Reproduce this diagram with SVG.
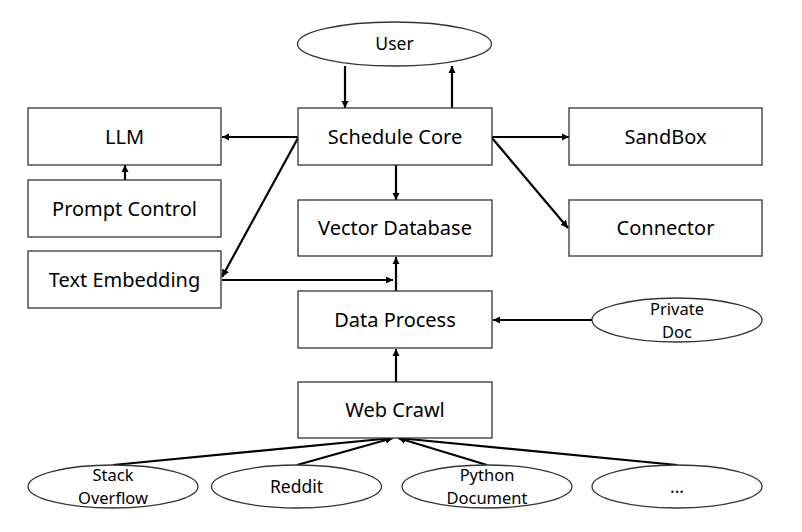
<svg xmlns="http://www.w3.org/2000/svg" width="802" height="532" viewBox="0 0 802 532">
<style>
.box{fill:#fff;stroke:#333;stroke-width:1.3}
.ell{fill:#fff;stroke:#333;stroke-width:1.3}
.lbl{font-family:"Noto Sans","Open Sans",sans-serif;font-size:20px;fill:#000;text-anchor:middle}
.el{font-family:"Noto Sans","Open Sans",sans-serif;font-size:17.5px;fill:#000;text-anchor:middle}
.el2{font-family:"Noto Sans","Open Sans",sans-serif;font-size:16.5px;fill:#000;text-anchor:middle}
.c{fill:none;stroke:#000;stroke-width:2.2;marker-end:url(#ah)}
</style>
<defs>
<marker id="ah" viewBox="0 0 10 10" refX="10" refY="5" markerWidth="3.4" markerHeight="3.4" orient="auto" markerUnits="strokeWidth">
<path d="M0,0 L10,5 L0,10 z" fill="#000"/>
</marker>
</defs>
<rect width="802" height="532" fill="#fff"/>
<g id="connectors">
<line class="c" x1="345" y1="66" x2="345" y2="108"/>
<line class="c" x1="452" y1="108" x2="452" y2="66"/>
<line class="c" x1="298" y1="137" x2="222" y2="137"/>
<line class="c" x1="125" y1="180" x2="125" y2="165"/>
<line class="c" x1="298" y1="138" x2="222" y2="277"/>
<line class="c" x1="396" y1="165" x2="396" y2="200"/>
<line class="c" x1="492" y1="137" x2="569" y2="137"/>
<line class="c" x1="492" y1="138" x2="568" y2="228"/>
<line class="c" x1="222" y1="280" x2="393" y2="280"/>
<line class="c" x1="396" y1="291" x2="396" y2="257"/>
<line class="c" x1="592" y1="320" x2="493" y2="320"/>
<line class="c" x1="396" y1="382" x2="396" y2="349"/>
<line class="c" x1="113" y1="465" x2="393" y2="438"/>
<line class="c" x1="297" y1="465" x2="393" y2="438"/>
<line class="c" x1="487" y1="465" x2="398" y2="438"/>
<line class="c" x1="677" y1="465" x2="398" y2="438"/>
</g>
<g id="user"><ellipse class="ell" cx="394.5" cy="44" rx="97" ry="22"/><text class="el" x="394.5" y="50">User</text></g>
<g id="llm"><rect class="box" x="28" y="108" width="193" height="57"/><text class="lbl" x="124.5" y="143.5">LLM</text></g>
<g id="prompt-control"><rect class="box" x="28" y="180" width="193" height="57"/><text class="lbl" x="124.5" y="215.5">Prompt Control</text></g>
<g id="text-embedding"><rect class="box" x="28" y="251" width="193" height="57"/><text class="lbl" x="124.5" y="286.5">Text Embedding</text></g>
<g id="schedule-core"><rect class="box" x="298" y="108" width="194" height="57"/><text class="lbl" x="395" y="143.5">Schedule Core</text></g>
<g id="vector-database"><rect class="box" x="298" y="200" width="194" height="56"/><text class="lbl" x="395" y="235">Vector Database</text></g>
<g id="data-process"><rect class="box" x="298" y="291" width="194" height="57"/><text class="lbl" x="395" y="326.5">Data Process</text></g>
<g id="web-crawl"><rect class="box" x="298" y="382" width="194" height="56"/><text class="lbl" x="395" y="417">Web Crawl</text></g>
<g id="sandbox"><rect class="box" x="569" y="108" width="193" height="57"/><text class="lbl" x="665.5" y="143.5">SandBox</text></g>
<g id="connector"><rect class="box" x="569" y="200" width="193" height="56"/><text class="lbl" x="665.5" y="235">Connector</text></g>
<g id="private-doc"><ellipse class="ell" cx="677" cy="320" rx="85" ry="22"/><text class="el2"><tspan x="677" y="314.5">Private</tspan><tspan x="677" y="337.5">Doc</tspan></text></g>
<g id="stack-overflow"><ellipse class="ell" cx="113" cy="486.5" rx="85" ry="21.5"/><text class="el2"><tspan x="113" y="481">Stack</tspan><tspan x="113" y="504">Overflow</tspan></text></g>
<g id="reddit"><ellipse class="ell" cx="296.5" cy="486.5" rx="85" ry="21.5"/><text class="el" x="296.5" y="492.5">Reddit</text></g>
<g id="python-document"><ellipse class="ell" cx="487" cy="486.5" rx="85" ry="21.5"/><text class="el2"><tspan x="487" y="481">Python</tspan><tspan x="487" y="504">Document</tspan></text></g>
<g id="more"><ellipse class="ell" cx="677" cy="486.5" rx="85" ry="21.5"/><text class="el" x="677" y="492.5">...</text></g>
</svg>
